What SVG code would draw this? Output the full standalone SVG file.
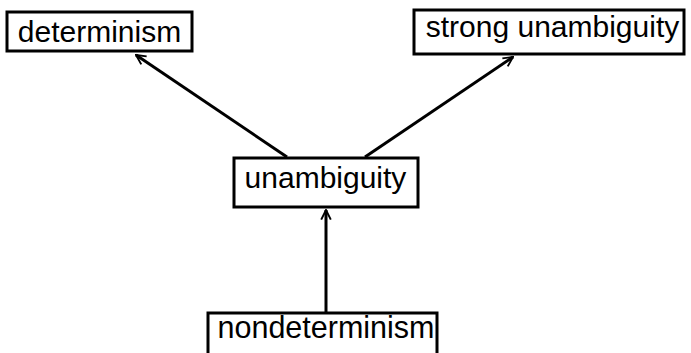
<svg xmlns="http://www.w3.org/2000/svg" width="691" height="353" viewBox="0 0 691 353">
<defs>
<style>
.box{fill:#fff;stroke:#000;stroke-width:3}
.lbl{font-family:"Liberation Sans",Arial,sans-serif;font-size:30px;text-anchor:middle;fill:#000}
.edge{stroke:#000;stroke-width:3;fill:none;marker-end:url(#arr)}
</style>
<marker id="arr" viewBox="0 0 10 10" refX="9" refY="5" markerWidth="4" markerHeight="4" orient="auto" markerUnits="strokeWidth">
<path d="M1,1 L9,5 L1,9" fill="none" stroke="#000" stroke-width="1.6"/>
</marker>
</defs>
<g id="edges">
<line class="edge" x1="287" y1="157" x2="136" y2="55"/>
<line class="edge" x1="365" y1="157" x2="513" y2="57"/>
<line class="edge" x1="326" y1="312" x2="326" y2="210"/>
</g>
<g id="determinism">
<rect class="box" x="7" y="12" width="185" height="39"/>
<text class="lbl" x="99.5" y="42">determinism</text>
</g>
<g id="strong-unambiguity">
<rect class="box" x="414" y="10" width="270" height="44"/>
<text class="lbl" x="552.5" y="37">strong unambiguity</text>
</g>
<g id="unambiguity">
<rect class="box" x="234" y="158" width="184" height="49"/>
<text class="lbl" x="325.5" y="188">unambiguity</text>
</g>
<g id="nondeterminism">
<rect class="box" x="208" y="313" width="229" height="50"/>
<text class="lbl" x="326" y="338" style="font-size:30.5px">nondeterminism</text>
</g>
</svg>
